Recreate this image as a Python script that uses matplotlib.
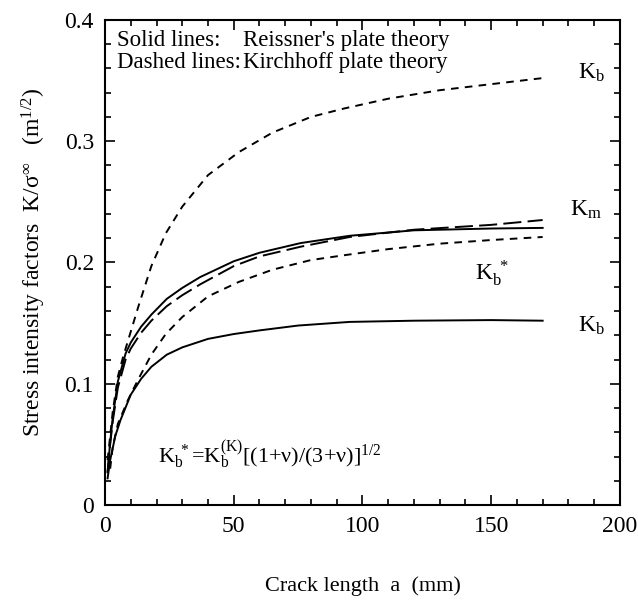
"""
Stress intensity factors vs crack length (Reissner vs Kirchhoff plate theory)
"""

import matplotlib
matplotlib.use('Agg')
import matplotlib.pyplot as plt
from matplotlib.ticker import MultipleLocator

plt.rcParams['font.family'] = ['Liberation Serif', 'DejaVu Serif']
plt.rcParams['mathtext.fontset'] = 'custom'
plt.rcParams['mathtext.rm'] = 'Liberation Serif'
plt.rcParams['mathtext.it'] = 'Liberation Serif'
plt.rcParams['lines.scale_dashes'] = False

# Reissner's plate theory (solid)
x_km_r = [1, 2, 3, 5, 8, 10, 14, 18, 24, 30, 37, 50, 60, 76, 95, 120, 150, 170]
y_km_r = [0.027, 0.052, 0.072, 0.102, 0.125, 0.134, 0.147, 0.157, 0.170, 0.179, 0.188, 0.201, 0.208, 0.216, 0.222, 0.2265, 0.228, 0.2285]
x_kb_r = [1, 2, 4, 6, 10, 14, 18, 24, 30, 40, 50, 60, 75, 95, 120, 150, 170]
y_kb_r = [0.022, 0.037, 0.057, 0.070, 0.091, 0.104, 0.114, 0.124, 0.130, 0.137, 0.141, 0.144, 0.148, 0.151, 0.152, 0.1525, 0.152]

# Kirchhoff plate theory (dashed)
x_km_k = [1, 2, 3, 5, 8, 10, 14, 18, 24, 30, 37, 50, 60, 76, 95, 120, 150, 170]
y_km_k = [0.027, 0.050, 0.069, 0.097, 0.120, 0.129, 0.142, 0.152, 0.164, 0.173, 0.182, 0.197, 0.205, 0.213, 0.221, 0.227, 0.231, 0.235]
x_kb_k = [1, 2, 3, 5, 7, 9, 13, 18, 23.6, 30, 40, 52, 65, 80, 93, 110, 130, 150, 170]
y_kb_k = [0.037, 0.057, 0.077, 0.106, 0.122, 0.136, 0.164, 0.197, 0.224, 0.246, 0.272, 0.291, 0.307, 0.320, 0.327, 0.335, 0.342, 0.347, 0.352]
x_kb_s = [2, 3, 5, 7, 9, 13, 18, 23.6, 30, 40, 52, 65, 80, 93, 110, 130, 150, 170]
y_kb_s = [0.030, 0.048, 0.067, 0.077, 0.087, 0.104, 0.124, 0.141, 0.155, 0.172, 0.184, 0.194, 0.202, 0.206, 0.211, 0.2155, 0.2185, 0.221]

x_ticks = [0, 50, 100, 150, 200]
y_ticks = [0, 0.1, 0.2, 0.3, 0.4]
y_tick_labels = ['0', '0.1', '0.2', '0.3', '0.4']

fig = plt.figure(figsize=(6.38, 6.02), dpi=100)
ax = fig.add_axes([0.1646, 0.161, 0.807, 0.806])

lw = 1.4
short = (5.5, 4.5)
long_ = (13, 4.5)
ax.plot(x_km_r, y_km_r, color='black', lw=lw)
ax.plot(x_kb_r, y_kb_r, color='black', lw=lw)
ax.plot(x_km_k, y_km_k, color='black', lw=lw, dashes=long_)
ax.plot(x_kb_k, y_kb_k, color='black', lw=lw, dashes=short)
ax.plot(x_kb_s, y_kb_s, color='black', lw=lw, dashes=short)

ax.set_xlim(0, 200)
ax.set_ylim(0, 0.4)
ax.set_xticks(x_ticks)
ax.set_xticklabels([str(t) for t in x_ticks])
ax.set_yticks(y_ticks)
ax.set_yticklabels(y_tick_labels)
ax.xaxis.set_minor_locator(MultipleLocator(10))
ax.yaxis.set_minor_locator(MultipleLocator(0.02))
ax.tick_params(which='both', direction='in', top=True, right=True, width=1.2, labelsize=17)
ax.tick_params(which='major', length=7, pad=8)
ax.tick_params(which='minor', length=4.5)
for s in ax.spines.values():
    s.set_linewidth(1.5)

fs = 16.5
ax.text(4.7, 0.383, 'Solid lines:', fontsize=fs, va='center')
ax.text(53.6, 0.383, "Reissner's plate theory", fontsize=fs, va='center')
ax.text(4.7, 0.365, 'Dashed lines:', fontsize=fs, va='center')
ax.text(53.6, 0.365, 'Kirchhoff plate theory', fontsize=fs, va='center')

fk = 17
ax.text(183.7, 0.356, r'K$_\mathrm{b}$', fontsize=fk, va='center')
ax.text(180.6, 0.243, r'K$_\mathrm{m}$', fontsize=fk, va='center')
ax.text(143.7, 0.191, r'K$_\mathrm{b}^{\ *}$', fontsize=fk, va='center')
ax.text(183.7, 0.148, r'K$_\mathrm{b}$', fontsize=fk, va='center')
ax.text(20.6, 0.041, r'K$_\mathrm{b}^{\ *}$=K$_\mathrm{b}^{(\mathrm{K})}$[(1+ν)/(3+ν)]$^{1/2}$', fontsize=16, va='center')

ax.set_ylabel(r'Stress intensity factors  K/σ$^{\infty}$   (m$^{1/2}$)', fontsize=fk, labelpad=12)
ax.set_xlabel('Crack length  a  (mm)', fontsize=16, labelpad=28)

fig.savefig('out.png', dpi=100)
